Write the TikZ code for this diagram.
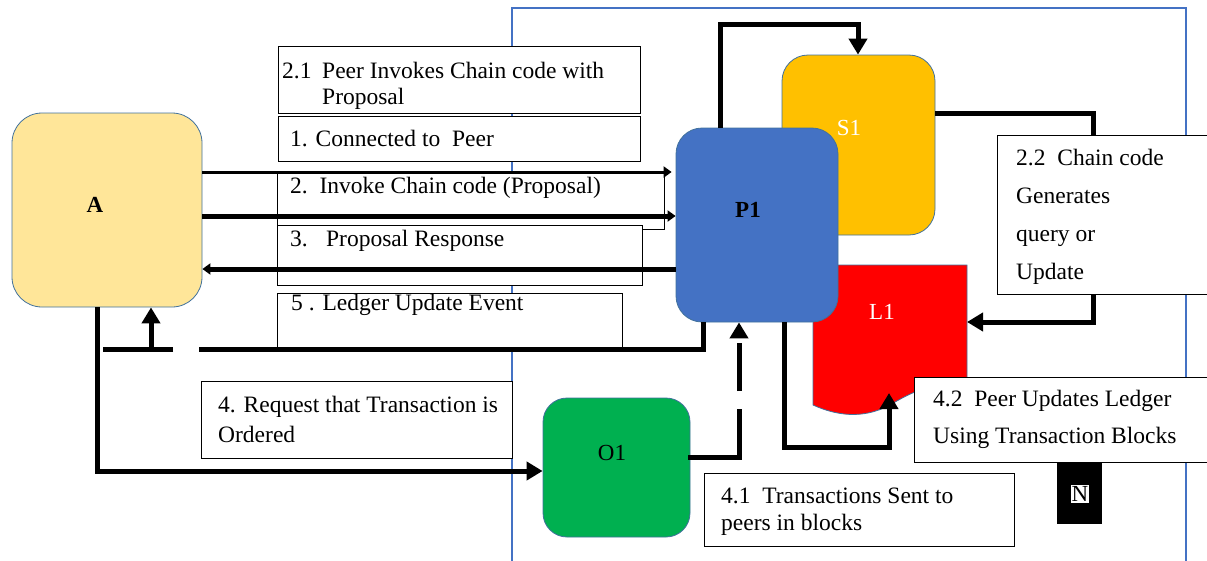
\documentclass[tikz,border=0pt]{standalone}
\usepackage{fontspec}
\setmainfont{Liberation Serif}
\definecolor{clientyellow}{RGB}{255,230,153}
\definecolor{peerblue}{RGB}{68,114,196}
\definecolor{chaingold}{RGB}{255,192,0}
\definecolor{ledgerred}{RGB}{255,0,0}
\definecolor{ordergreen}{RGB}{0,176,80}
\definecolor{edgeblue}{RGB}{65,113,156}
\usetikzlibrary{arrows.meta,positioning}
\newcommand{\boxlines}[1]{\begin{tabular}[t]{@{}l@{}}#1\end{tabular}}

\begin{document}
\begin{tikzpicture}[x=1pt, y=-1pt,
    actor/.style={draw=edgeblue, line width=0.8pt, rounded corners=26pt, inner sep=0pt},
    lbl/.style={font=\fontsize{23}{26}\selectfont, inner sep=0pt},
    tbox/.style={draw=black, line width=1pt, fill=white, inner sep=0pt, anchor=north west},
    txt/.style={anchor=base west, inner sep=0pt, font=\fontsize{23.5}{#1}\selectfont},
    txt/.default=27,
    flow/.style={line width=5pt},
    bigtip/.style={-{Triangle[length=16pt,width=18pt]}},
    smalltip/.style={-{Triangle[length=8pt,width=11pt]}}]
    \useasboundingbox (0,0) rectangle (1207,560);
    \clip (0,0) rectangle (1207,560);

    \draw[peerblue, line width=1.2pt] (512,8) rectangle (1186,600);

    \filldraw[fill=ledgerred, draw=edgeblue, line width=0.8pt] (813,265) -- (967,265) -- (967,395)
        .. controls (940,380) and (920,387) .. (890,405)
        .. controls (862,420) and (835,415) .. (813,405) -- cycle;
    \coordinate (L1tip) at (889,393);
    \coordinate (L1in) at (967,322);
    \node[lbl, text=white] (L1) at (882,312) {L1};

    \node[actor, fill=chaingold, minimum width=153pt, minimum height=180pt] (S1) at (858.5,145) {};
    \node[actor, fill=peerblue, minimum width=162pt, minimum height=194pt] (P1) at (757,225) {};
    \node[actor, fill=ordergreen, minimum width=147pt, minimum height=139pt, rounded corners=24pt] (O1) at (616.5,467.5) {};
    \node[actor, fill=clientyellow, minimum width=190pt, minimum height=194pt, rounded corners=30pt] (A) at (107,210) {};

    \node[lbl, font=\fontsize{23}{26}\selectfont\bfseries] (Alab) at (95,205) {A};
    \node[lbl, font=\fontsize{23}{26}\selectfont\bfseries] (P1lab) at (748,210) {P1};
    \node[lbl, text=white] (S1lab) at (849,128) {S1};
    \node[lbl] (O1lab) at (612,453) {O1};

    \node[tbox, minimum width=362pt, minimum height=67pt] (b21) at (278,46) {};
    \node[tbox, minimum width=362pt, minimum height=45pt] (b1) at (278,116) {};
    \node[tbox, minimum width=387pt, minimum height=57pt] (b2) at (277,172) {};
    \node[tbox, minimum width=365pt, minimum height=60pt] (b3) at (277,225) {};
    \node[tbox, minimum width=345pt, minimum height=55pt] (b5) at (277,293) {};
    \node[tbox, minimum width=311pt, minimum height=77pt] (b4) at (201,381) {};
    \node[tbox, minimum width=310pt, minimum height=73pt] (b41) at (704,473) {};

    \draw[line width=3pt, smalltip, shorten >=4pt] (A.east |- 0,172) -- (P1.west |- 0,172);
    \draw[flow, smalltip] (A.east |- 0,216) -- (P1.west |- 0,216);
    \draw[flow, smalltip] (P1.west |- 0,269) -- (A.east |- 0,269);
    \coordinate (evgap) at (199,349);
    \coordinate (evstub) at (173,349);
    \coordinate (evend) at (103,349);
    \draw[flow] (P1.south -| 703,0) |- (evgap);
    \draw[flow] (evstub) -- (evend);
    \draw[flow, bigtip] (151,349) -- (A.south -| 151,0);
    \draw[flow, bigtip] (A.south -| 97,0) |- (O1.west |- 0,471);
    \draw[flow, line cap=rect] (O1.east |- 0,457) -- (739,457);
    \draw[flow, bigtip, dash pattern=on 48pt off 18pt] (739,457) -- (P1.south -| 739,0);
    \draw[flow, bigtip] (P1.south -| 784,0) |- (L1tip |- 0,447) -- (L1tip);
    \draw[flow, bigtip] (P1.north -| 720,0) |- (858,24) -- (S1.north -| 858,0);
    \draw[flow, bigtip] (S1.east |- 0,113) -| (1093,322) -- (L1in);

    \node[tbox, minimum width=220pt, minimum height=159pt] (b22) at (997,135) {};
    \node[tbox, minimum width=300pt, minimum height=85pt] (b42) at (914,377) {};
    \node[fill=black, minimum width=45pt, minimum height=62pt, inner sep=0pt, anchor=north west] (Nbox) at (1057,462) {};
    \node[lbl, fill=white, inner sep=1pt] (N) at (1080,494) {N};

    \node[txt=26] (t21) at (282,78) {\boxlines{\makebox[40pt][l]{2.1}Peer Invokes Chain code with\\\hspace*{40pt}Proposal}};
    \node[txt] (t1) at (290,146) {1. Connected to\ \ Peer};
    \node[txt] (t2) at (290,193) {2.\ \ Invoke Chain code (Proposal)};
    \node[txt] (t3) at (290,246) {\makebox[36pt][l]{3.}Proposal Response};
    \node[txt] (t5) at (291,310) {5 . Ledger Update Event};
    \node[txt=30] (t4) at (218,412) {\boxlines{4. Request that Transaction is\\Ordered}};
    \node[txt=38] (t22) at (1016,165) {\boxlines{2.2\ \ Chain code\\Generates\\query or\\Update}};
    \node[txt=37] (t42) at (933,406) {\boxlines{4.2\ \ Peer Updates Ledger\\Using Transaction Blocks}};
    \node[txt] (t41) at (721,503) {\boxlines{4.1\ \ Transactions Sent to\\peers in blocks}};
\end{tikzpicture}
\end{document}
